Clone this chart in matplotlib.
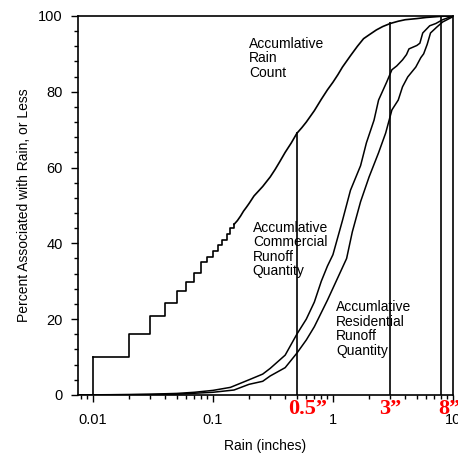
import numpy as np
import matplotlib.pyplot as plt
from matplotlib.ticker import LogLocator, FixedLocator, AutoMinorLocator, FuncFormatter
import matplotlib.transforms as mtransforms

plt.rcParams['font.family'] = ['Liberation Sans', 'DejaVu Sans']

# accumulative rain count (percent of events with rain <= x)
rain_x = [0.01, 0.02, 0.03, 0.04, 0.05, 0.06, 0.07, 0.08, 0.09, 0.10,
          0.11, 0.12, 0.13, 0.14, 0.15, 0.16, 0.17, 0.18, 0.19, 0.20,
          0.22, 0.24, 0.26, 0.28, 0.30, 0.33, 0.36, 0.40, 0.45, 0.50,
          0.55, 0.60, 0.70, 0.80, 0.90, 1.0, 1.1, 1.2, 1.4, 1.6,
          1.8, 2.0, 2.3, 2.6, 3.0, 3.5, 4.0, 5.0, 6.0, 8.0, 10.0]
rain_y = [10.0, 16.2, 20.8, 24.2, 27.3, 29.8, 32.2, 35.0, 36.5, 38.0,
          39.5, 41.0, 42.5, 44.0, 45.0, 46.0, 47.2, 48.5, 49.5, 50.5,
          52.5, 53.8, 55.0, 56.3, 57.5, 59.5, 61.5, 64.0, 66.5, 69.0,
          70.5, 72.0, 75.0, 78.0, 80.5, 82.5, 84.5, 86.5, 89.5, 92.0,
          94.0, 95.0, 96.3, 97.2, 98.0, 98.6, 99.0, 99.3, 99.6, 99.9, 100.0]
n_steps = 14  # below ~0.15 in the rain record goes up in visible 0.01" steps

# accumulative commercial runoff quantity
com_x = [0.0075, 0.02, 0.03, 0.05, 0.07, 0.1, 0.14, 0.2, 0.26, 0.3,
         0.4, 0.5, 0.6, 0.7, 0.8, 0.9, 1.0, 1.2, 1.4, 1.7,
         1.9, 2.2, 2.4, 2.8, 3.1, 3.4, 3.8, 4.1, 4.3, 5.0,
         5.3, 5.6, 6.4, 7.2, 8.2, 10.0]
com_y = [0.0, 0.1, 0.2, 0.4, 0.7, 1.2, 2.0, 4.0, 5.5, 7.0,
         10.5, 16.0, 20.0, 24.5, 30.0, 34.0, 37.0, 46.0, 54.0, 60.5,
         66.5, 72.5, 77.8, 82.5, 85.8, 86.8, 88.4, 89.8, 91.3, 92.2,
         92.8, 95.5, 97.4, 98.0, 99.0, 100.0]

# accumulative residential runoff quantity
res_x = [0.0075, 0.03, 0.05, 0.1, 0.15, 0.2, 0.26, 0.3, 0.4, 0.5,
         0.6, 0.7, 0.9, 1.1, 1.3, 1.45, 1.7, 2.0, 2.4, 2.75,
         3.1, 3.5, 3.8, 4.2, 4.9, 5.4, 5.7, 6.1, 6.5, 7.3,
         8.2, 10.0]
res_y = [0.0, 0.1, 0.2, 0.7, 1.3, 2.8, 3.6, 5.0, 7.2, 11.0,
         14.5, 18.0, 25.0, 31.0, 36.0, 43.0, 51.0, 57.5, 63.9, 69.1,
         75.2, 77.8, 81.3, 83.9, 86.5, 89.0, 90.0, 92.5, 95.5, 97.0,
         98.4, 99.8]

# design storms marked with vertical lines
mark_x = [0.5, 3.0, 8.0]
mark_top = [69.4, 98.4, 99.8]
mark_labels = ['0.5\u201d', '3\u201d', '8\u201d']
mark_label_x = [0.62, 3.0, 9.3]

fig = plt.figure(figsize=(4.58, 4.55), dpi=100)
ax = fig.add_axes([0.170, 0.132, 0.819, 0.833])

ax.step(rain_x[:n_steps + 1], rain_y[:n_steps + 1], where='post', color='black', lw=1.2)
ax.plot(rain_x[n_steps:], rain_y[n_steps:], color='black', lw=1.2)
ax.plot([rain_x[0], rain_x[0]], [0, rain_y[0]], color='black', lw=1.2)
ax.plot(com_x, com_y, color='black', lw=1.1)
ax.plot(res_x, res_y, color='black', lw=1.1)
ax.vlines(mark_x, 0, mark_top, color='black', lw=1.2)

ax.set_xscale('log')
ax.set_xlim(0.0075, 10)
ax.set_ylim(0, 100)
ax.xaxis.set_major_locator(FixedLocator([0.01, 0.1, 1, 10]))
ax.xaxis.set_major_formatter(FuncFormatter(lambda v, p: '%g' % v))
ax.xaxis.set_minor_locator(LogLocator(base=10, subs=np.arange(2, 10)))
ax.set_yticks([0, 20, 40, 60, 80, 100])
ax.yaxis.set_minor_locator(AutoMinorLocator(5))
ax.tick_params(which='major', direction='out', length=5, width=1, labelsize=10.5)
ax.tick_params(axis='x', which='major', pad=8)
ax.tick_params(axis='y', which='major', pad=6)
ax.tick_params(which='minor', direction='out', length=3, width=1)
for s in ax.spines.values():
    s.set_linewidth(1.2)

ax.set_ylabel('Percent Associated with Rain, or Less', fontsize=10, labelpad=5)
ax.set_xlabel('Rain (inches)', fontsize=10, labelpad=9)

ax.text(0.2, 94.5, 'Accumlative\nRain\nCount', fontsize=10, ha='left', va='top', linespacing=1.05)
ax.text(0.215, 46.0, 'Accumlative\nCommercial\nRunoff\nQuantity', fontsize=10, ha='left', va='top', linespacing=1.05)
ax.text(1.06, 25.0, 'Accumlative\nResidential\nRunoff\nQuantity', fontsize=10, ha='left', va='top', linespacing=1.05)

trans = mtransforms.blended_transform_factory(ax.transData, ax.transAxes)
for lx, lab in zip(mark_label_x, mark_labels):
    ax.text(lx, -0.038, lab, transform=trans, color='red', fontsize=16,
            fontweight='bold', family=['Liberation Serif', 'DejaVu Serif'],
            ha='center', va='center', clip_on=False)

fig.savefig('out.png', dpi=100)
